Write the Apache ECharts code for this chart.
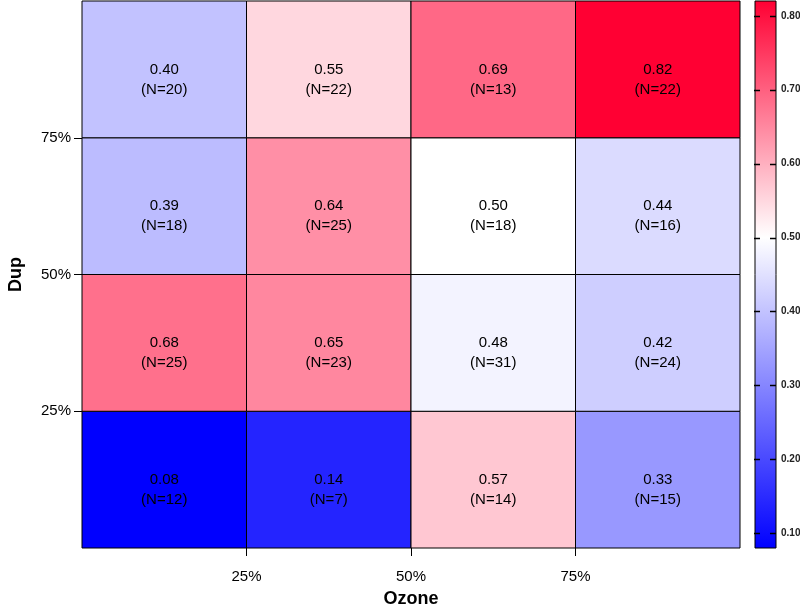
<!DOCTYPE html>
<html><head><meta charset="utf-8">
<script src="https://cdn.jsdelivr.net/npm/echarts@6/dist/echarts.min.js"></script>
<style>html,body{margin:0;padding:0;background:#fff}#c{width:800px;height:611px}</style>
</head><body><div id="c"></div>
<script>
// ---- data ----
var xTickLabels = ['25%', '50%', '75%'];   // Ozone quartile boundaries
var yTickLabels = ['25%', '50%', '75%'];   // Dup quartile boundaries
var xName = 'Ozone';
var yName = 'Dup';
// rows from bottom (Dup low) to top (Dup high); columns Ozone low -> high
var valuesRow0 = [0.08, 0.14, 0.57, 0.33];
var valuesRow1 = [0.68, 0.65, 0.48, 0.42];
var valuesRow2 = [0.39, 0.64, 0.50, 0.44];
var valuesRow3 = [0.40, 0.55, 0.69, 0.82];
var countsRow0 = [12, 7, 14, 15];
var countsRow1 = [25, 23, 31, 24];
var countsRow2 = [18, 25, 18, 16];
var countsRow3 = [20, 22, 13, 22];
var colorMin = 0.08, colorMid = 0.50, colorMax = 0.82;
var colorbarTicks = [0.10, 0.20, 0.30, 0.40, 0.50, 0.60, 0.70, 0.80];

var valueRows = [valuesRow0, valuesRow1, valuesRow2, valuesRow3];
var countRows = [countsRow0, countsRow1, countsRow2, countsRow3];
var cells = [];
valueRows.forEach(function (row, yi) {
  row.forEach(function (v, xi) { cells.push([xi, yi, v, countRows[yi][xi]]); });
});

var BLUE = [0, 0, 255], WHITE = [255, 255, 255], RED = [255, 0, 51];
function mix(a, b, t) {
  return 'rgb(' + a.map(function (c, i) { return Math.round(c + (b[i] - c) * t); }).join(',') + ')';
}
function colorAt(v) {
  if (v <= colorMid) return mix(BLUE, WHITE, (v - colorMin) / (colorMid - colorMin));
  return mix(WHITE, RED, (v - colorMid) / (colorMax - colorMid));
}
var rampColors = [];
var steps = 148;
for (var i = 0; i <= steps; i++) rampColors.push(colorAt(colorMin + (colorMax - colorMin) * i / steps));

var FONT = 'Liberation Sans, Arial, Helvetica, sans-serif';
var chart = echarts.init(document.getElementById('c'), null, {renderer: 'canvas'});

chart.setOption({
  animation: false,
  backgroundColor: '#fff',
  grid: [
    {left: 82, top: 1, width: 658, height: 547, containLabel: false, outerBoundsMode: 'none'},
    {left: 755, top: 1, width: 21, height: 547, containLabel: false, outerBoundsMode: 'none'}
  ],
  visualMap: {
    type: 'continuous', show: false, seriesIndex: 0, dimension: 2,
    min: colorMin, max: colorMax, inRange: {color: rampColors}
  },
  xAxis: [
    {
      gridIndex: 0, type: 'value', min: 0, max: 4, interval: 1,
      name: xName, nameLocation: 'middle', nameGap: 42,
      nameTextStyle: {fontFamily: FONT, fontWeight: 'bold', fontSize: 18, color: '#000'},
      axisLine: {show: false},
      splitLine: {show: false},
      axisTick: {show: true, length: 8, lineStyle: {color: '#000'}, customValues: [1, 2, 3]},
      axisLabel: {
        customValues: [1, 2, 3], margin: 21,
        formatter: function (v) { return xTickLabels[v - 1] || ''; },
        fontFamily: FONT, fontSize: 15, color: '#000'
      }
    },
    {gridIndex: 1, type: 'value', min: 0, max: 1, show: false}
  ],
  yAxis: [
    {
      gridIndex: 0, type: 'value', min: 0, max: 4, interval: 1,
      name: yName, nameLocation: 'middle', nameGap: 57, nameRotate: 90,
      nameTextStyle: {fontFamily: FONT, fontWeight: 'bold', fontSize: 18, color: '#000'},
      axisLine: {show: false},
      splitLine: {show: false},
      axisTick: {show: true, length: 8, lineStyle: {color: '#000'}, customValues: [1, 2, 3]},
      axisLabel: {
        customValues: [1, 2, 3], margin: 11,
        formatter: function (v) { return yTickLabels[v - 1] || ''; },
        fontFamily: FONT, fontSize: 15, color: '#000'
      }
    },
    {
      gridIndex: 1, type: 'value', min: colorMin, max: colorMax, position: 'right', offset: 0, z: 10,
      axisLine: {show: false}, splitLine: {show: false},
      axisTick: {show: false},
      axisLabel: {
        customValues: colorbarTicks, margin: 5,
        formatter: function (v) { return v.toFixed(2); },
        fontFamily: FONT, fontSize: 10, fontWeight: 'bold', color: '#222'
      }
    }
  ],
  series: [
    {
      type: 'custom', xAxisIndex: 0, yAxisIndex: 0,
      data: cells,
      renderItem: function (params, api) {
        var x = api.value(0), y = api.value(1);
        var p0 = api.coord([x, y + 1]);
        var p1 = api.coord([x + 1, y]);
        var cx = (p0[0] + p1[0]) / 2, cy = (p0[1] + p1[1]) / 2;
        return {
          type: 'group',
          children: [
            {type: 'rect', shape: {x: p0[0], y: p0[1], width: p1[0] - p0[0], height: p1[1] - p0[1]},
             style: {fill: api.visual('color'), stroke: '#000', lineWidth: 1}},
            {type: 'text', x: cx, y: cy, style: {text: api.value(2).toFixed(2), fill: '#000',
              font: '15px ' + FONT, align: 'center', verticalAlign: 'middle'}},
            {type: 'text', x: cx, y: cy + 20, style: {text: '(N=' + api.value(3) + ')', fill: '#000',
              font: '15px ' + FONT, align: 'center', verticalAlign: 'middle'}}
          ]
        };
      }
    },
    {
      type: 'custom', xAxisIndex: 1, yAxisIndex: 1,
      data: [[colorMin, colorMax]],
      renderItem: function (params, api) {
        var p0 = api.coord([0, api.value(1)]);
        var p1 = api.coord([1, api.value(0)]);
        var children = [{
          type: 'rect', shape: {x: p0[0], y: p0[1], width: p1[0] - p0[0], height: p1[1] - p0[1]},
          style: {
            fill: new echarts.graphic.LinearGradient(0, 1, 0, 0, [
              {offset: 0, color: colorAt(colorMin)},
              {offset: (colorMid - colorMin) / (colorMax - colorMin), color: colorAt(colorMid)},
              {offset: 1, color: colorAt(colorMax)}
            ]),
            stroke: '#000', lineWidth: 1
          }
        }];
        colorbarTicks.forEach(function (t) {
          var yl = Math.round(api.coord([0, t])[1]) + 0.5;
          children.push({type: 'line', shape: {x1: p0[0] - 1, y1: yl, x2: p0[0] + 5, y2: yl},
            style: {stroke: '#000', lineWidth: 1.5}});
          children.push({type: 'line', shape: {x1: p1[0] - 6, y1: yl, x2: p1[0], y2: yl},
            style: {stroke: '#000', lineWidth: 1.5}});
        });
        return {type: 'group', children: children};
      }
    }
  ]
});
</script>
</body></html>
